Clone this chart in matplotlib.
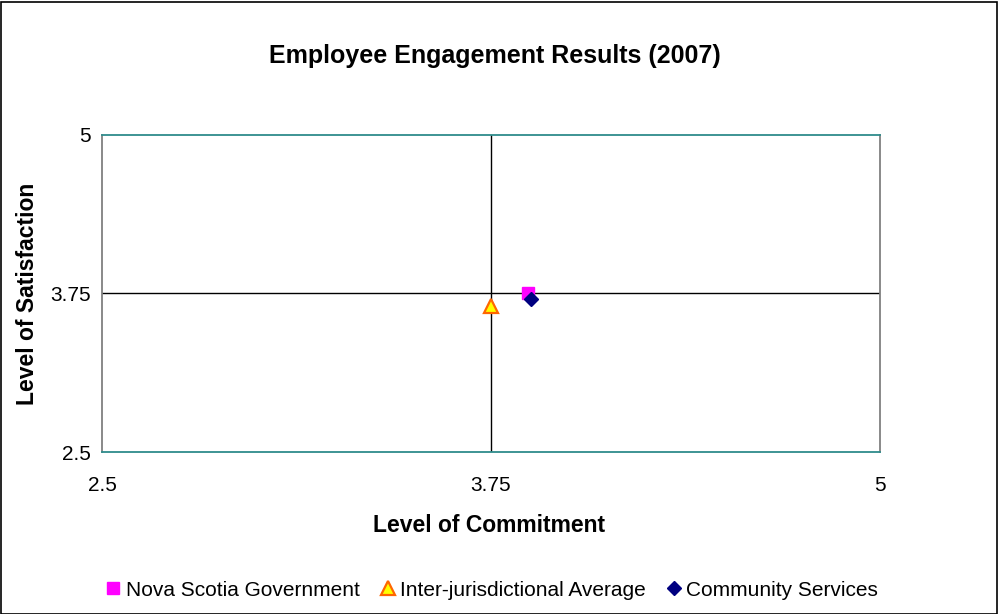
import matplotlib
matplotlib.use("Agg")
import matplotlib.pyplot as plt
from matplotlib.patches import Rectangle

plt.rcParams['font.family'] = ['Liberation Sans', 'DejaVu Sans']

# Survey results: (commitment, satisfaction)
series_names = ["Nova Scotia Government", "Inter-jurisdictional Average", "Community Services"]
commitment = [3.87, 3.75, 3.88]
satisfaction = [3.75, 3.65, 3.71]

axis_min, axis_mid, axis_max = 2.5, 3.75, 5.0
tick_values = [2.5, 3.75, 5.0]
tick_labels = ["2.5", "3.75", "5"]

fig = plt.figure(figsize=(9.98, 6.14), dpi=100)
ax = fig.add_axes([102 / 998, 1 - 452 / 614, 778 / 998, 317 / 614])

# quadrant dividers
ax.axhline(axis_mid, color="black", lw=1.0, zorder=1)
ax.axvline(axis_mid, color="black", lw=1.0, zorder=1)

styles = [
    dict(marker="s", color="#FF00FF", markeredgecolor="#FF00FF", markersize=9),
    dict(marker="^", color="#FFFF00", markeredgecolor="#FF6600", markersize=10, markeredgewidth=1.6),
    dict(marker="D", color="#000080", markeredgecolor="#000080", markersize=7),
]
for name, x, y, st in zip(series_names, commitment, satisfaction, styles):
    ax.plot([x], [y], linestyle="none", label=name, zorder=3, **st)

ax.set_xlim(axis_min, axis_max)
ax.set_ylim(axis_min, axis_max)
ax.set_xticks(tick_values)
ax.set_xticklabels(tick_labels, fontsize=15)
ax.set_yticks(tick_values)
ax.set_yticklabels(tick_labels, fontsize=15)
ax.tick_params(axis="x", length=0, pad=17)
ax.tick_params(axis="y", length=0, pad=8)

for side in ("top", "bottom"):
    ax.spines[side].set_color("#2E8B8B")
    ax.spines[side].set_linewidth(1.3)
for side in ("left", "right"):
    ax.spines[side].set_color("#808080")
    ax.spines[side].set_linewidth(1.3)

fig.text(495 / 998, 1 - 56 / 614, "Employee Engagement Results (2007)",
         ha="center", va="center", fontsize=18, fontweight="bold")
fig.text(489 / 998, 1 - 525 / 614, "Level of Commitment",
         ha="center", va="center", fontsize=16.5, fontweight="bold")
fig.text(28 / 998, 1 - 294 / 614, "Level of Satisfaction",
         ha="center", va="center", rotation=90, fontsize=16.5, fontweight="bold")

fig.legend(loc="center", bbox_to_anchor=(491 / 998, 1 - 590 / 614), ncol=3,
           frameon=False, fontsize=15, handletextpad=0.15, columnspacing=0.9,
           handlelength=0.9, markerscale=1.0)

fig.patches.append(Rectangle((0.5 / 998, 0.5 / 614), 996 / 998, 612 / 614,
                             transform=fig.transFigure, fill=False,
                             edgecolor="black", lw=1.2))

fig.savefig("out.png", dpi=100)
